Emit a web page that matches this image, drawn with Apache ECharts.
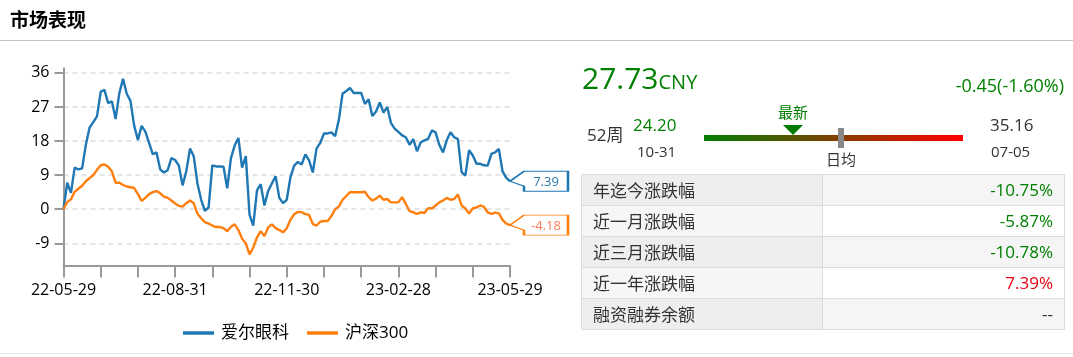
<!DOCTYPE html>
<html>
<head>
<meta charset="utf-8">
<script src="https://cdn.jsdelivr.net/npm/echarts@6/dist/echarts.min.js"></script>
<style>
  html, body { margin: 0; padding: 0; background: #fff; }
  body { width: 1073px; height: 357px; position: relative; overflow: hidden;
         font-family: "Segoe UI", "Open Sans", "Noto Sans CJK SC", sans-serif; color: #333; }
  #chart { position: absolute; left: 0; top: 0; width: 1073px; height: 357px; }
  .abs { position: absolute; white-space: nowrap; }
  #title { left: 10px; top: 6px; font-size: 19px; font-weight: bold; color: #000; line-height: 26px;
           font-family: "Noto Sans CJK SC", sans-serif; }
  #sepTop { left: 0; top: 40px; width: 1073px; height: 1px; background: #c4c4c4; }
  #sepBottom { left: 0; top: 353px; width: 1073px; height: 1px; background: #e6e6e6; }
  .green { color: #008000; }
  .red { color: #e60012; }
  #price { left: 582px; top: 60px; font-size: 30px; line-height: 36px; }
  #price .unit { font-size: 20px; }
  #change { right: 9px; top: 74px; font-size: 18px; line-height: 22px; }
  #wk { left: 587px; top: 125px; font-size: 17px; line-height: 20px; color: #333; }
  #low { left: 633px; top: 115px; font-size: 17px; line-height: 20px; }
  #lowDate { left: 637px; top: 142px; font-size: 15px; line-height: 18px; color: #333; }
  #high { left: 990px; top: 115px; font-size: 17px; line-height: 20px; color: #333; }
  #highDate { left: 991px; top: 142px; font-size: 15px; line-height: 18px; color: #333; }
  #bar { left: 704px; top: 135px; width: 259px; height: 6px;
         background: linear-gradient(to right, #008000, #ff0000); }
  #tri { left: 783px; top: 125px; width: 0; height: 0;
         border-left: 10px solid transparent; border-right: 10px solid transparent; border-top: 10px solid #007a00; }
  #latest { left: 777px; top: 103px; font-size: 15px; line-height: 18px; width: 32px; text-align: center;
            font-family: "Noto Sans CJK SC", sans-serif; }
  #avgMark { left: 838px; top: 128px; width: 6px; height: 20px; background: #888; }
  #avgText { left: 825px; top: 150px; font-size: 15px; line-height: 18px; width: 32px; text-align: center;
             color: #333; font-family: "Noto Sans CJK SC", sans-serif; }
  #tbl { left: 581px; top: 174px; width: 484px; border-collapse: collapse; font-size: 17px; }
  #tbl td { border: 1px solid #dcdcdc; height: 31px; padding: 0 11px; box-sizing: border-box; line-height: 20px; }
  #tbl td.k { width: 241px; color: #333; font-family: "Noto Sans CJK SC", sans-serif; }
  #tbl td.v { text-align: right; }
  #tbl tr:nth-child(odd) td.k { background: #eeeeee; }
  #tbl tr:nth-child(even) td.k { background: #f6f6f6; }
  #tbl tr:nth-child(odd) td.v { background: #f5f5f5; }
  #tbl tr:nth-child(even) td.v { background: #ffffff; }
</style>
</head>
<body>
<div id="chart"></div>
<div class="abs" id="title">市场表现</div>
<div class="abs" id="sepTop"></div>
<div class="abs" id="sepBottom"></div>
<div class="abs green" id="price"></div>
<div class="abs green" id="change"></div>
<div class="abs" id="wk">52周</div>
<div class="abs green" id="low"></div>
<div class="abs" id="lowDate"></div>
<div class="abs" id="bar"></div>
<div class="abs" id="tri"></div>
<div class="abs green" id="latest">最新</div>
<div class="abs" id="avgMark"></div>
<div class="abs" id="avgText">日均</div>
<div class="abs" id="high"></div>
<div class="abs" id="highDate"></div>
<table class="abs" id="tbl"></table>
<script>
// ---- chart data ----
const categories = [
  '22-05-29','22-06-01','22-06-04','22-06-07','22-06-10','22-06-13','22-06-16','22-06-19','22-06-22','22-06-25',
  '22-06-28','22-07-01','22-07-04','22-07-07','22-07-10','22-07-13','22-07-16','22-07-19','22-07-22','22-07-25',
  '22-07-28','22-07-31','22-08-03','22-08-06','22-08-09','22-08-12','22-08-16','22-08-20','22-08-24','22-08-28',
  '22-08-31','22-09-03','22-09-06','22-09-09','22-09-12','22-09-15','22-09-18','22-09-21','22-09-24','22-09-27',
  '22-09-30','22-10-03','22-10-06','22-10-09','22-10-12','22-10-15','22-10-18','22-10-21','22-10-24','22-10-27',
  '22-10-31','22-11-03','22-11-06','22-11-09','22-11-12','22-11-15','22-11-18','22-11-21','22-11-24','22-11-27',
  '22-11-30','22-12-03','22-12-06','22-12-09','22-12-12','22-12-15','22-12-18','22-12-21','22-12-24','22-12-27',
  '22-12-30','23-01-02','23-01-05','23-01-08','23-01-11','23-01-14','23-01-17','23-01-20','23-01-23','23-01-26',
  '23-01-29','23-02-01','23-02-04','23-02-07','23-02-10','23-02-13','23-02-16','23-02-19','23-02-22','23-02-25',
  '23-02-28','23-03-03','23-03-06','23-03-09','23-03-12','23-03-15','23-03-18','23-03-21','23-03-24','23-03-27',
  '23-03-30','23-04-02','23-04-05','23-04-08','23-04-11','23-04-14','23-04-17','23-04-20','23-04-23','23-04-26',
  '23-04-29','23-05-02','23-05-05','23-05-08','23-05-11','23-05-14','23-05-17','23-05-20','23-05-23','23-05-26',
  '23-05-29'
];
const aierValues = [
  0, 7, 4.3, 11, 10.5, 10.8, 17, 21.5, 23, 24.5,
  31, 31.5, 28, 28.5, 23.8, 30.6, 34.4, 30.5, 28.6, 22,
  18.3, 22, 20.5, 17.5, 14.5, 15, 10.5, 9.7, 10.3, 13.5,
  13, 11.5, 6.3, 10, 16, 14, 6.8, 2.5, -0.4, 0.5,
  11.6, 11.3, 11.3, 11.2, 5.5, 13.5, 16.8, 18.8, 11, 14,
  -1.5, -4.3, 5, 6.6, 1, 4.8, 6.8, 8.7, 3, 1.6,
  2.5, 8.5, 11.5, 12.5, 11.8, 14.5, 12.9, 9.7, 16, 17.5,
  20, 20, 20.3, 19.3, 23.6, 30.5, 31.2, 32, 30.7, 30.7,
  30.7, 27.8, 29, 24.6, 25.8, 28.2, 25.5, 27, 22.8, 21.3,
  20.4, 19.5, 19, 17, 18.5, 15.3, 17.6, 18.2, 18.6, 20.8,
  20.3, 17, 15, 18.2, 20.3, 19, 18.5, 9.8, 8.9, 15.6,
  14.2, 12, 12, 11.6, 11.5, 14.6, 15, 15.9, 10, 8.3,
  7.39
];
const hs300Values = [
  0, 1.9, 2.6, 4.6, 5.4, 6.2, 7.4, 8.2, 9, 10.4,
  11.6, 11.8, 11.2, 10, 7, 7, 6.4, 6, 5.8, 5.6,
  4, 2.2, 3, 4, 4.5, 4.8, 4.2, 3.3, 3, 2.3,
  1.5, 0.9, 0.7, 1.6, 2.3, 1.6, -1.2, -2.4, -3.4, -3.8,
  -4.3, -4.7, -4.7, -5, -5.8, -4.6, -4, -5.5, -7.8, -9,
  -11.9, -10.1, -7.4, -5.8, -7.1, -4.8, -4, -5, -5.5, -6.1,
  -5, -2.8, -1.3, -0.7, -0.8, -1.3, -1.5, -3.9, -4.3, -3.3,
  -3.1, -3.1, -1.8, 0, 0.7, 2.5, 3.5, 4.5, 4.5, 4.5,
  4.5, 4.6, 3.2, 2.3, 2.8, 3.6, 2.5, 2.7, 1.8, 1.8,
  1.8, 3.2, 1.4, -0.5, -0.8, -1.2, -0.8, -1, 0.3, 0.2,
  1, 1.8, 2.3, 3, 2.5, 2.7, 3.9, 1, 0.2, -1.1,
  0.2, 0.5, 1, 0.6, -0.8, -1.2, -0.9, -1.1, -2.8, -3.8,
  -4.18
];
const seriesNames = ['爱尔眼科', '沪深300'];
const yTickValues = [-9, 0, 9, 18, 27, 36];
const yRange = [-14.85, 37.2];

// ---- panel data ----
const priceText = '27.73';
const priceUnit = 'CNY';
const changeText = '-0.45(-1.60%)';
const weekLow = ['24.20', '10-31'];
const weekHigh = ['35.16', '07-05'];
const tableKeys = ['年迄今涨跌幅', '近一月涨跌幅', '近三月涨跌幅', '近一年涨跌幅', '融资融券余额'];
const tableVals = ['-10.75%', '-5.87%', '-10.78%', '7.39%', '--'];
const tableCls = ['green', 'green', 'green', 'red', ''];

document.getElementById('price').innerHTML = priceText + '<span class="unit">' + priceUnit + '</span>';
document.getElementById('change').textContent = changeText;
document.getElementById('low').textContent = weekLow[0];
document.getElementById('lowDate').textContent = weekLow[1];
document.getElementById('high').textContent = weekHigh[0];
document.getElementById('highDate').textContent = weekHigh[1];
const tbl = document.getElementById('tbl');
tableKeys.forEach(function (k, i) {
  const tr = document.createElement('tr');
  tr.innerHTML = '<td class="k">' + k + '</td><td class="v ' + tableCls[i] + '">' + tableVals[i] + '</td>';
  tbl.appendChild(tr);
});

const FONT = '"Segoe UI", "Open Sans", "Noto Sans CJK SC", sans-serif';
const colors = ['#1f77b4', '#ff7f0e'];
const labelColors = ['#2a77ad', '#f5805a'];
const last = categories.length - 1;

function callout(i, values) {
  return {
    silent: true,
    symbol: 'path://M0,10L14,0L58,0L58,20L14,20L14,15Z',
    symbolSize: [58, 20],
    symbolKeepAspect: false,
    symbolOffset: [29, 0],
    itemStyle: { color: '#fff', borderColor: colors[i], borderWidth: 1.5 },
    label: {
      show: true, position: 'inside', offset: [7, 1],
      color: labelColors[i], fontSize: 13, fontFamily: FONT,
      formatter: function (p) { return p.value; }
    },
    data: [{ coord: [categories[last], values[last]], value: values[last] }]
  };
}

const chart = echarts.init(document.getElementById('chart'), null, { renderer: 'canvas' });
chart.setOption({
  animation: false,
  color: colors,
  textStyle: { fontFamily: FONT },
  grid: { left: 63.5, right: 563, top: 68.3, bottom: 91.5, containLabel: false },
  legend: {
    data: seriesNames,
    left: 178, top: 318,
    icon: 'rect', itemWidth: 31, itemHeight: 3.5, itemGap: 18,
    textStyle: { fontSize: 17, color: '#000', fontFamily: FONT, lineHeight: 20, padding: [0, 0, 0, 2] }
  },
  xAxis: {
    type: 'category',
    data: categories,
    boundaryGap: false,
    axisLine: { onZero: false, lineStyle: { color: '#999', width: 2 } },
    axisTick: { interval: 9, length: 12, lineStyle: { color: '#999', width: 2 } },
    axisLabel: { interval: 29, fontSize: 16, color: '#000', margin: 17, fontFamily: FONT }
  },
  yAxis: {
    type: 'value',
    min: yRange[0], max: yRange[1],
    axisLine: { show: true, lineStyle: { color: '#999', width: 2 } },
    axisTick: { show: true, customValues: yTickValues, length: 9, lineStyle: { color: '#999', width: 2 } },
    axisLabel: { customValues: yTickValues, fontSize: 16, color: '#000', margin: 14, fontFamily: FONT },
    splitLine: { show: true, lineStyle: { color: '#dddddd', type: [5, 4], width: 1.5 } }
  },
  series: [
    {
      name: seriesNames[0], type: 'line', data: aierValues, showSymbol: false, symbol: 'none',
      lineStyle: { width: 2.4, color: colors[0] }, z: 3,
      markPoint: callout(0, aierValues)
    },
    {
      name: seriesNames[1], type: 'line', data: hs300Values, showSymbol: false, symbol: 'none',
      lineStyle: { width: 2.4, color: colors[1] }, z: 3,
      markPoint: callout(1, hs300Values)
    }
  ]
});
</script>
</body>
</html>
